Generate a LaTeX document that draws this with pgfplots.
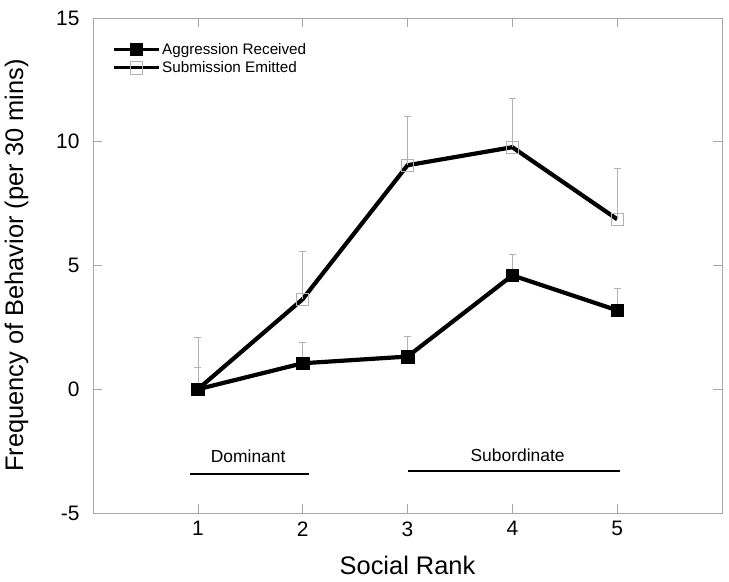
\documentclass[border=0pt]{standalone}
\usepackage{pgfplots}
\pgfplotsset{compat=1.18}
\usepackage{fontspec}
\setmainfont{Liberation Sans}
\begin{document}
\begin{tikzpicture}
\begin{axis}[
  name=ax,
  scale only axis,
  width=629bp, height=495bp,
  xmin=0, xmax=6, ymin=-5, ymax=15,
  xtick={1,2,3,4,5},
  ytick={-5,0,5,10,15},
  tick align=inside,
  major tick length=9bp,
  axis line style={gray!70, line width=0.6pt},
  tick style={gray!70, line width=0.6pt},
  /pgf/number format/assume math mode=true,
  ticklabel style={font=\fontsize{21}{25}\selectfont},
  xticklabel style={yshift=-5bp},
  yticklabel style={xshift=-10bp},
  xlabel={Social Rank},
  ylabel={Frequency of Behavior (per 30 mins)},
  label style={font=\fontsize{25.5}{30}\selectfont},
  xlabel style={yshift=-13bp},
  ylabel style={yshift=21bp},
  legend style={at={(0,1)}, anchor=north west, xshift=18bp, yshift=-22bp, draw=none, fill=none,
    font=\fontsize{15.3}{17}\selectfont, row sep=2bp, inner sep=1bp},
  legend cell align=left,
  legend image code/.code={\draw[mark repeat=2,mark phase=2,#1,line width=3bp] plot coordinates {(0bp,0bp)(22.5bp,0bp)(45bp,0bp)};},
  error bars/y dir=plus,
  error bars/y explicit,
  error bars/error bar style={gray!60, line width=0.6pt},
  error bars/error mark options={rotate=90, mark size=3.5bp, gray!60, line width=0.6pt},
]
\addplot[black, line width=4.2bp, mark=square*, mark size=6.3bp, mark options={solid, fill=black, line width=0.6pt}]
  coordinates {(1,0) +- (0,0.9) (2,1.05) +- (0,0.83) (3,1.32) +- (0,0.82) (4,4.6) +- (0,0.85) (5,3.19) +- (0,0.88)};
\addlegendentry{Aggression Received}
\addplot[black, line width=4.2bp, mark=square, mark size=6.2bp, mark options={draw=gray!60, fill=none, line width=0.9pt}]
  coordinates {(1,0) +- (0,2.1) (2,3.64) +- (0,1.94) (3,9.05) +- (0,1.98) (4,9.78) +- (0,1.98) (5,6.87) +- (0,2.06)};
\addlegendentry{Submission Emitted}
\addplot[only marks, forget plot, mark=square*, mark size=6.3bp, mark options={solid, fill=black, draw=black, line width=0.6pt}]
  coordinates {(1,0)};
\addplot[black, line width=2.6bp, forget plot, no markers] coordinates {(0.924,-3.43) (2.057,-3.43)};
\addplot[black, line width=2.6bp, forget plot, no markers] coordinates {(3.0,-3.31) (5.03,-3.31)};
\node[font=\fontsize{17.5}{20}\selectfont] at (axis cs:1.48,-2.72) {Dominant};
\node[font=\fontsize{17.5}{20}\selectfont] at (axis cs:4.05,-2.68) {Subordinate};
\end{axis}
\pgfresetboundingbox
\path[use as bounding box] ([shift={(-93bp,-69bp)}]ax.south west) rectangle ([shift={(7bp,18bp)}]ax.north east);
\end{tikzpicture}
\end{document}
